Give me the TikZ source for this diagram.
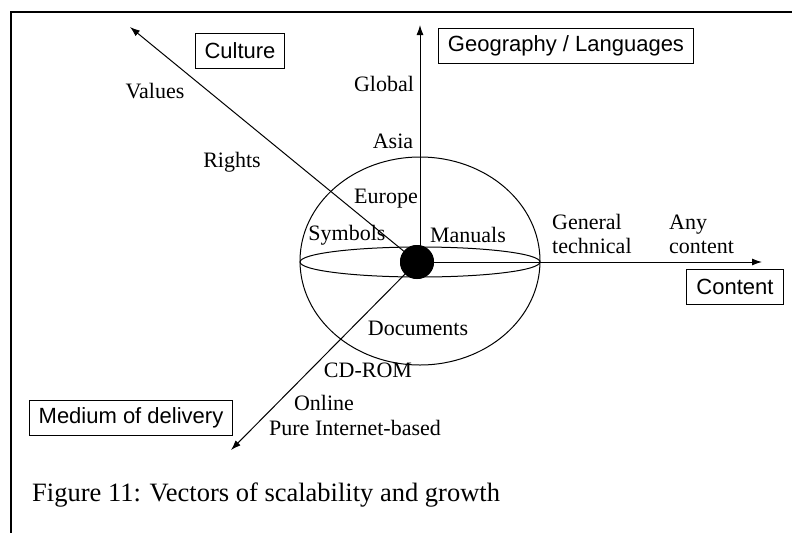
\documentclass[tikz,border=0pt]{standalone}
\usepackage{fontspec}
\setmainfont{Liberation Serif}
\setsansfont{Liberation Sans}
\usepackage{tikz}
\usetikzlibrary{arrows.meta,positioning}

\begin{document}
\begin{tikzpicture}[
      x=1pt, y=-1pt,
      font=\fontsize{22}{24}\selectfont,
      axisbox/.style={draw, line width=1pt, font=\sffamily\fontsize{22}{24}\selectfont,
                      inner xsep=9.5pt, minimum height=35pt},
      lbl/.style={inner sep=0pt},
      vector/.style={-{Latex[length=10pt,width=7pt]}, line width=1pt}
  ]
  \useasboundingbox (0,0) rectangle (792,533);
  \draw[line width=1.6pt] (792,12) -- (11,12) -- (11,533);

  % sphere and equator
  \draw[line width=1pt] (420,261) ellipse [x radius=120pt, y radius=104pt];
  \draw[line width=1pt] (420,262) ellipse [x radius=120pt, y radius=15pt];

  \coordinate (geotip) at (420,25);
  \coordinate (conttip) at (762,262);
  \coordinate (culttip) at (130,27);
  \coordinate (medtip) at (231,450);
  \node[circle, fill, minimum size=34pt, inner sep=0pt] (core) at (417,262) {};

  \draw[vector] (core.center -| geotip) -- (geotip);
  \draw[vector] (core.center) -- (conttip);
  \draw[vector] (core.center) -- (culttip);
  \draw[vector] (core.center) -- (medtip);
  \node[circle, fill, minimum size=34pt, inner sep=0pt] at (core) {};

  \node[axisbox] (culture) at (240,51) {Culture};
  \node[axisbox] (geo) at (566,46) {Geography / Languages};
  \node[axisbox] (content) at (735,287) {Content};
  \node[axisbox] (medium) at (131,418) {Medium of delivery};

  \node[lbl] (values) at (155,91) {Values};
  \node[lbl] (rights) at (232,162) {Rights};
  \node[lbl] (global) at (384,84) {Global};
  \node[lbl] (asia) at (393,141) {Asia};
  \node[lbl] (europe) at (386,199) {Europe};
  \node[lbl] (symbols) at (347,235) {Symbols};
  \node[lbl] (manuals) at (468,235) {Manuals};
  \node[lbl, align=left, anchor=west] (general) at (552,234) {General\\technical};
  \node[lbl, align=left, anchor=west] (any) at (669,234) {Any\\content};
  \node[lbl] (documents) at (418,328) {Documents};
  \node[lbl] (cdrom) at (368,370) {CD-ROM};
  \node[lbl] (online) at (324,403) {Online};
  \node[lbl] (pure) at (355,428) {Pure Internet-based};

  \node[lbl, anchor=west, font=\fontsize{26.5}{28}\selectfont] (caption) at (32,495)
       {Figure 11: Vectors of scalability and growth};
\end{tikzpicture}
\end{document}
